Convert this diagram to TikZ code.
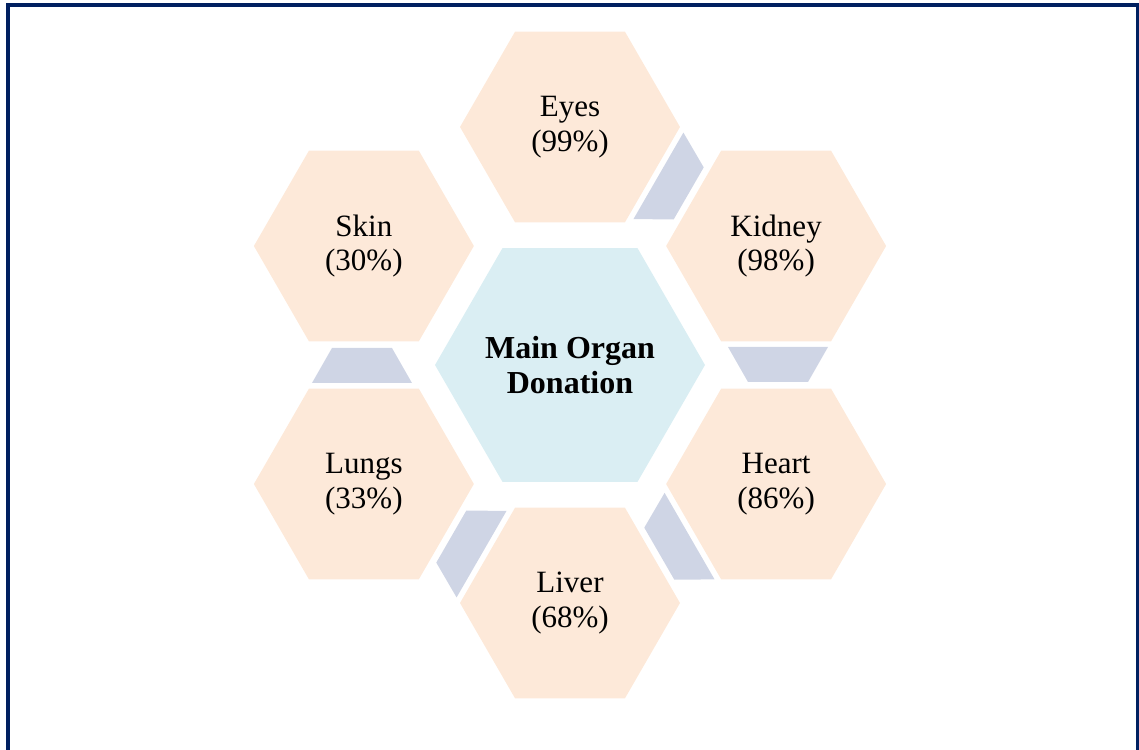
\documentclass[tikz,border=0pt]{standalone}
\usepackage{fontspec}
\setmainfont{Liberation Serif}
\usepackage{xcolor}
\usetikzlibrary{shapes.geometric}
\definecolor{peach}{HTML}{FDE9D9}
\definecolor{paleblue}{HTML}{DAEEF3}
\definecolor{bridgeblue}{HTML}{CFD5E5}
\definecolor{framenavy}{HTML}{002060}

\begin{document}
\begin{tikzpicture}[x=1pt, y=1pt,
    hex/.style={regular polygon, regular polygon sides=6, inner sep=-15pt,
                align=center, font=\fontsize{31}{34.5}\selectfont},
    organ/.style={hex, fill=peach, minimum size=220pt},
    hub/.style={hex, fill=paleblue, minimum size=270pt,
                font=\fontsize{32}{35}\selectfont\bfseries},
    bridge/.style={fill=bridgeblue}]

    % --- Page and frame ---
    \useasboundingbox (-570,-384) rectangle (569,365);
    \clip (-570,-384) rectangle (569,365);
    \draw[framenavy, line width=4pt] (-562,-420) rectangle (568,360);

    % --- Centre ---
    \node[hub] (main) at (0,0) {Main Organ\\Donation};

    % --- Organs ---
    \node[organ] (eyes)   at (90:238)  {Eyes\\(99\%)};
    \node[organ] (kidney) at (30:238)  {Kidney\\(98\%)};
    \node[organ] (heart)  at (-30:238) {Heart\\(86\%)};
    \node[organ] (liver)  at (-90:238) {Liver\\(68\%)};
    \node[organ] (lungs)  at (-150:238){Lungs\\(33\%)};
    \node[organ] (skin)   at (150:238) {Skin\\(30\%)};

    % --- Bridges between neighbours ---
    \foreach \a in {60, 0, -60, -120, 180}
      \fill[bridge, rotate=\a] (158,18) -- (258,18) -- (238,-17) -- (178,-17) -- cycle;
  \end{tikzpicture}
\end{document}
